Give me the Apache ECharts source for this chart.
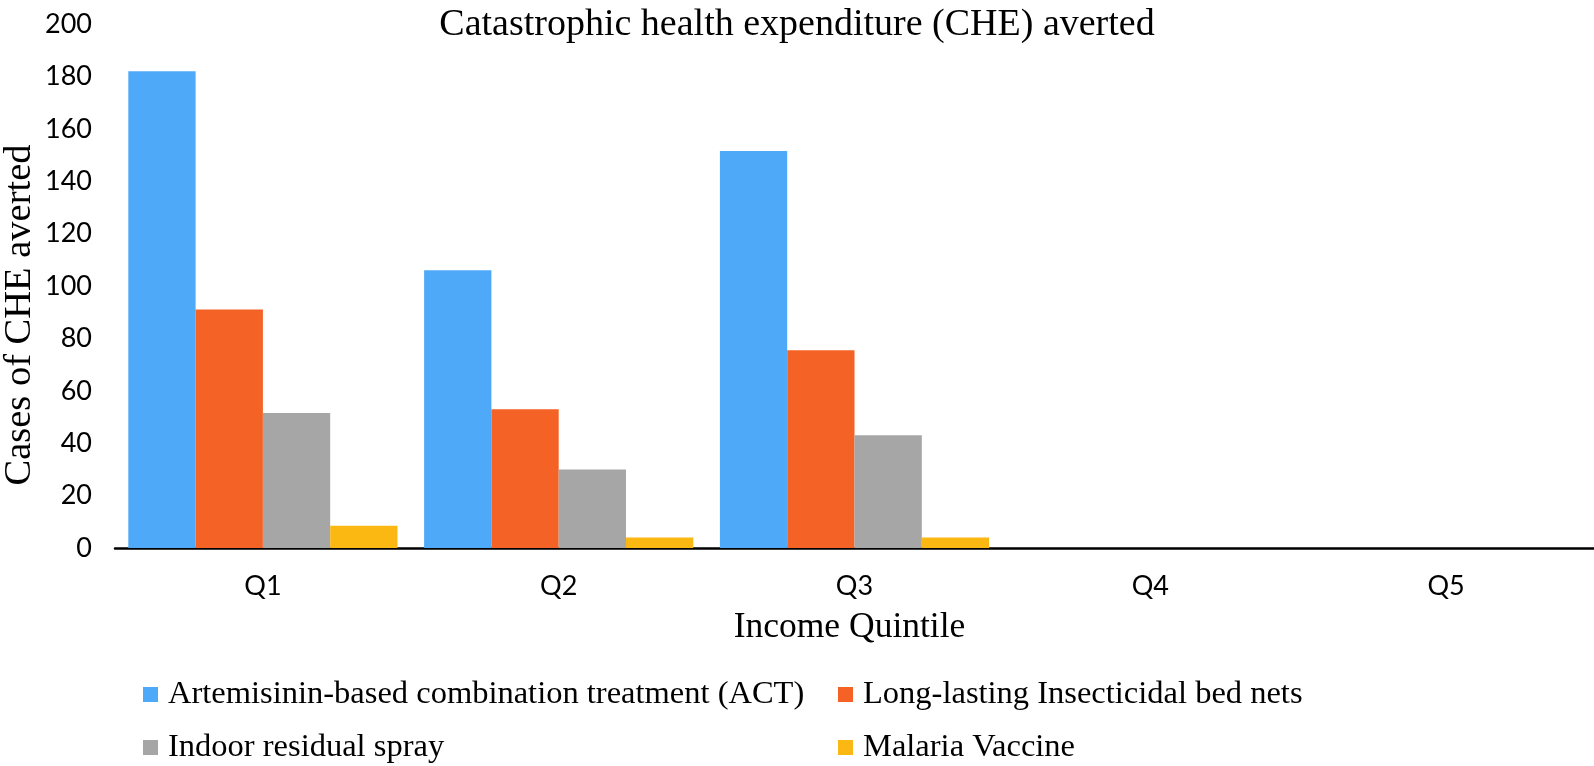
<!DOCTYPE html>
<html><head><meta charset="utf-8">
<script src="https://cdn.jsdelivr.net/npm/echarts@6/dist/echarts.min.js"></script>
<style>html,body{margin:0;padding:0;background:#fff}#c{width:1594px;height:766px}</style>
</head><body><div id="c"></div>
<script>
const categories = ['Q1', 'Q2', 'Q3', 'Q4', 'Q5'];
const seriesNames = ['Artemisinin-based combination treatment (ACT)', 'Long-lasting Insecticidal bed nets', 'Indoor residual spray', 'Malaria Vaccine'];
const actValues = [182, 106, 151.5, 0, 0];
const llinValues = [91, 53, 75.5, 0, 0];
const irsValues = [51.5, 30, 43, 0, 0];
const vaccineValues = [8.5, 4, 4, 0, 0];
const colors = ['#4FA9F9', '#F46225', '#A6A6A6', '#FBB813'];

const chart = echarts.init(document.getElementById('c'));
const serif = "'Liberation Serif', 'Times New Roman', serif";
const sans = "Lato, 'Open Sans', sans-serif";
const legendPos = [[143, 678], [838, 678], [143, 731], [838, 731]];
const allValues = [actValues, llinValues, irsValues, vaccineValues];
chart.setOption({
  animation: false,
  title: {
    text: 'Catastrophic health expenditure (CHE) averted',
    left: 'center', top: 0, padding: [6, 0, 0, 12],
    textStyle: { fontFamily: serif, fontSize: 38, fontWeight: 'normal', color: '#000' }
  },
  legend: seriesNames.map((n, i) => ({
    data: [n], left: legendPos[i][0], top: legendPos[i][1], padding: 0,
    itemWidth: 15, itemHeight: 15, itemGap: 0, icon: 'rect',
    textStyle: { fontFamily: serif, fontSize: 32.5, color: '#000', padding: [0, 0, 0, 5] }
  })),
  grid: { left: 115, right: 0, top: 24, bottom: 218, outerBoundsMode: 'none', containLabel: false },
  xAxis: {
    type: 'category', data: categories,
    name: 'Income Quintile', nameLocation: 'middle', nameGap: 62, nameMoveOverlap: false,
    nameTextStyle: { fontFamily: serif, fontSize: 35.5, color: '#000', padding: [0, 10, 0, 0] },
    axisLine: { lineStyle: { color: '#000', width: 2.5 } },
    axisTick: { show: false },
    axisLabel: { fontFamily: sans, fontSize: 27, color: '#000', margin: 25 }
  },
  yAxis: {
    type: 'value', min: 0, max: 200, interval: 20,
    name: 'Cases of CHE averted', nameLocation: 'middle', nameGap: 76, nameMoveOverlap: false,
    nameTextStyle: { fontFamily: serif, fontSize: 38.5, color: '#000', padding: [0, 58, 0, 0] },
    axisLine: { show: false }, axisTick: { show: false }, splitLine: { show: false },
    axisLabel: { fontFamily: sans, fontSize: 27, color: '#000', margin: 23 }
  },
  series: seriesNames.map((n, i) => ({
    name: n, type: 'bar', data: allValues[i],
    barGap: '0%', barCategoryGap: '9%',
    itemStyle: { color: colors[i] }
  }))
});
</script></body></html>
